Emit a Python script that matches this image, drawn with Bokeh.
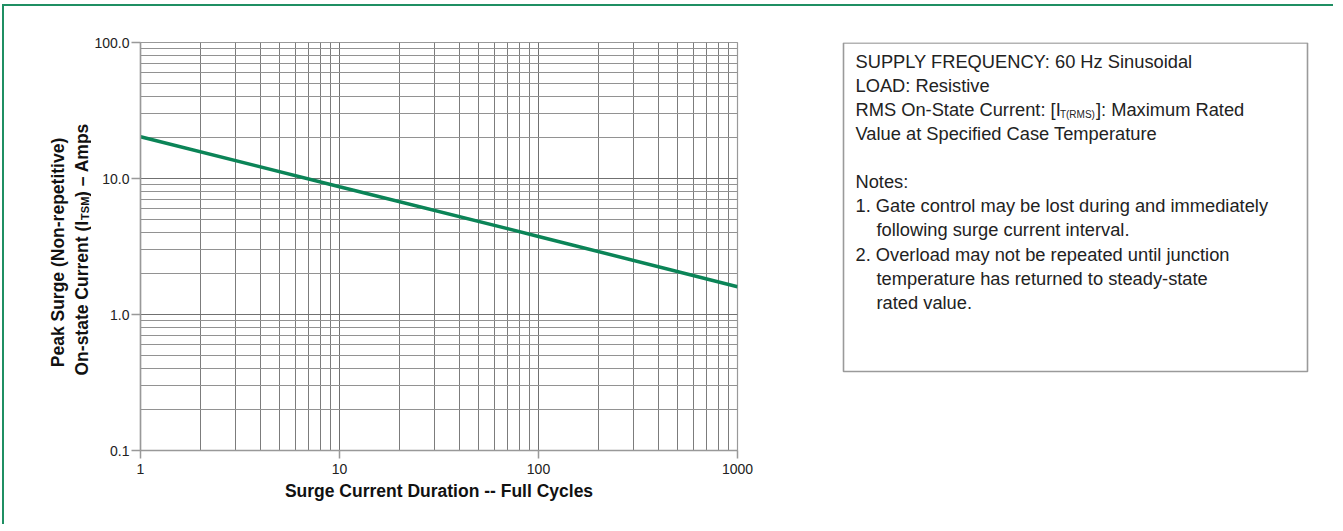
from bokeh.plotting import figure
from bokeh.layouts import row
from bokeh.models import Range1d, FixedTicker, PrintfTickFormatter, ColumnDataSource
from bokeh.core.properties import value
from bokeh.embed import file_html
from bokeh.resources import INLINE
import math

# ---------------- data ----------------
cycles = [1, 10, 100, 1000]
surge_amps = [20.3, 8.7, 3.75, 1.6]

x_ticks = [1, 10, 100, 1000]
y_ticks = [0.1, 1, 10, 100]
x_minor = [m * d for d in (1, 10, 100) for m in range(2, 10)]
y_minor = [m * d for d in (0.1, 1, 10) for m in range(2, 10)]

x_label = "Surge Current Duration -- Full Cycles"
y_label_1 = "Peak Surge (Non-repetitive)"
y_label_2a = "On-state Current (I"
y_label_2sub = "TSM"
y_label_2b = ") \u2013 Amps"

info_lines = [
    ("SUPPLY FREQUENCY: 60 Hz Sinusoidal", 0),
    ("LOAD: Resistive", 0),
    (None, 0),  # RMS line with subscript (drawn separately)
    ("Value at Specified Case Temperature", 0),
    ("", 0),
    ("Notes:", 0),
    ("1. Gate control may be lost during and immediately", 0),
    ("following surge current interval.", 1),
    ("2. Overload may not be repeated until junction", 0),
    ("temperature has returned to steady-state", 1),
    ("rated value.", 1),
]
rms_a = "RMS On-State Current: [I"
rms_sub = "T(RMS)"
rms_b = "]: Maximum Rated"

FONT = "Liberation Sans"
GREEN = "#0b8457"
TXT = "#222222"

# layout (page coordinates; row origin at page (4, 6))
OX, OY = 4, 6
H = 520
FRAME_TOP, FRAME_BOT = 42, 450
BT = FRAME_TOP - OY
BB = H - (FRAME_BOT - OY)
X_YL_END = 91
W0 = X_YL_END - OX
W1 = 808 - X_YL_END
W2 = 1335 - 808

# ---------------- y-label strip ----------------
yl = figure(width=W0, height=H, x_range=Range1d(OX, X_YL_END),
            y_range=Range1d(-FRAME_BOT, -FRAME_TOP),
            output_backend="svg", toolbar_location=None,
            x_axis_location=None, y_axis_location=None,
            min_border_left=0, min_border_right=0,
            min_border_top=BT, min_border_bottom=BB)
yl.grid.visible = False
yl.outline_line_color = None

lab_fs = 17.5
lab_kw = dict(text_font=value(FONT), text_font_style="bold", text_color="#111111",
              text_baseline="middle", angle=math.pi / 2)
yl.text(x=[57], y=[-252], text=[y_label_1], text_align="center",
        text_font_size=f"{lab_fs}px", **lab_kw)
y2_start = -375
w_a = 8.834 * lab_fs
yl.text(x=[81], y=[y2_start], text=[y_label_2a], text_align="left",
        text_font_size=f"{lab_fs}px", **lab_kw)
yl.text(x=[84.5], y=[y2_start + w_a + 1], text=[y_label_2sub], text_align="left",
        text_font_size="11px", **lab_kw)
yl.text(x=[81], y=[y2_start + w_a + 24], text=[y_label_2b], text_align="left",
        text_font_size=f"{lab_fs}px", **lab_kw)

# ---------------- chart ----------------
p = figure(width=W1, height=H, x_axis_type="log", y_axis_type="log",
           x_range=Range1d(1, 1000), y_range=Range1d(0.1, 100),
           output_backend="svg", toolbar_location=None,
           min_border_left=140 - X_YL_END, min_border_right=808 - 737,
           min_border_top=BT, min_border_bottom=BB)
p.outline_line_color = "#999999"
p.outline_line_width = 1.2

p.xaxis.ticker = FixedTicker(ticks=x_ticks, minor_ticks=x_minor)
p.yaxis.ticker = FixedTicker(ticks=y_ticks, minor_ticks=y_minor)
p.xaxis.formatter = PrintfTickFormatter(format="%d")
p.yaxis.formatter = PrintfTickFormatter(format="%.1f")

for ax in (p.xaxis, p.yaxis):
    ax.axis_line_color = "#999999"
    ax.axis_line_width = 1.5
    ax.major_tick_line_color = "#999999"
    ax.major_tick_line_width = 1.5
    ax.major_tick_in = 0
    ax.minor_tick_in = 0
    ax.minor_tick_out = 0
    ax.major_label_text_font = FONT
    ax.major_label_text_font_size = "14px"
    ax.major_label_text_color = TXT

p.xaxis.major_tick_out = 8
p.xaxis.major_label_standoff = 5
p.yaxis.major_tick_out = 9
p.yaxis.major_label_standoff = 2

p.xaxis.axis_label = x_label
p.xaxis.axis_label_text_font = FONT
p.xaxis.axis_label_text_font_size = "17.5px"
p.xaxis.axis_label_text_font_style = "bold"
p.xaxis.axis_label_text_color = "#111111"
p.xaxis.axis_label_standoff = 4

p.xgrid.grid_line_color = "#707070"
p.ygrid.grid_line_color = "#707070"
p.xgrid.minor_grid_line_color = "#7c7c7c"
p.ygrid.minor_grid_line_color = "#929292"

p.line(cycles, surge_amps, line_color=GREEN, line_width=3.5)

# ---------------- info box ----------------
box = figure(width=W2, height=H, x_range=Range1d(0, W2),
             y_range=Range1d(FRAME_BOT, FRAME_TOP),
             output_backend="svg", toolbar_location=None,
             x_axis_location=None, y_axis_location=None,
             min_border_left=0, min_border_right=0,
             min_border_top=BT, min_border_bottom=BB)
box.grid.visible = False
box.outline_line_color = None

box.quad(left=[35], right=[499], top=[42.5], bottom=[371],
         fill_color=None, line_color="#9a9a9a", line_width=1.6)

fs = 18.3
x0, x_ind = 47, 68
y_first, dy = 60.7, 24.1
tx, ty, tt = [], [], []
for i, (t, ind) in enumerate(info_lines):
    if t:
        tx.append(x_ind if ind else x0)
        ty.append(y_first + i * dy)
        tt.append(t)
txt_kw = dict(text_font=value(FONT), text_color=TXT,
              text_baseline="alphabetic", text_align="left")
box.text(x="x", y="y", text="t", source=ColumnDataSource(dict(x=tx, y=ty, t=tt)),
         text_font_size=f"{fs}px", **txt_kw)

y_rms = y_first + 2 * dy
sub_x = x0 + 11.226 * fs - 1
box.text(x=[x0], y=[y_rms], text=[rms_a], text_font_size=f"{fs}px", **txt_kw)
box.text(x=[sub_x], y=[y_rms + 5], text=[rms_sub], text_font_size="10px", **txt_kw)
box.text(x=[sub_x + 36], y=[y_rms], text=[rms_b], text_font_size=f"{fs}px", **txt_kw)

layout = row(yl, p, box, styles={
    "margin-left": f"{OX}px", "margin-top": f"{OY}px",
    "box-shadow": "-2px -2px 0 0 #1f8f63"})

open("out.html", "w").write(file_html(layout, INLINE))
